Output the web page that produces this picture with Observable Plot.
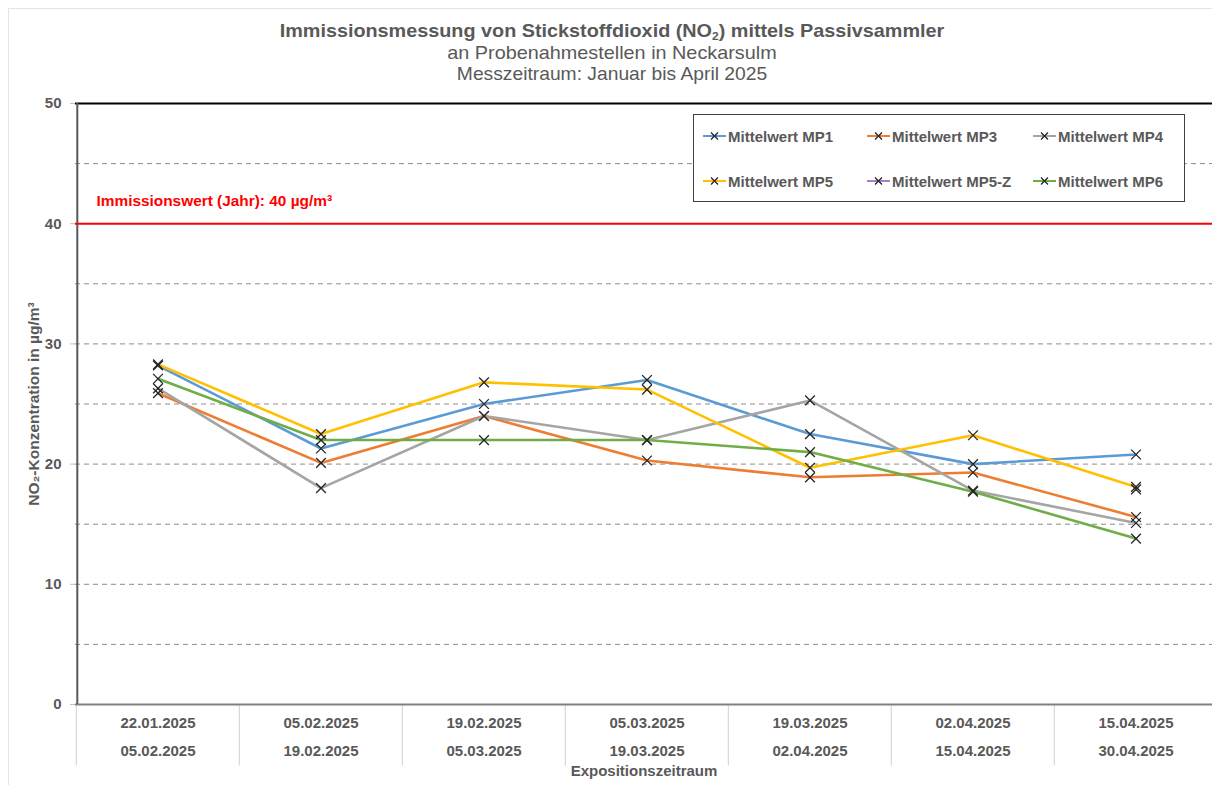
<!DOCTYPE html>
<html>
<head>
<meta charset="utf-8">
<script src="https://cdn.jsdelivr.net/npm/d3@7"></script>
<script src="https://cdn.jsdelivr.net/npm/@observablehq/plot@0.6"></script>
<style>
  html, body { margin: 0; padding: 0; background: #fff; }
  body { width: 1212px; height: 785px; position: relative; overflow: hidden; font-family: "Liberation Sans", Arial, sans-serif; color: #595959; }
  #outer { position: absolute; left: 8px; top: 8px; width: 1210px; height: 790px; border-left: 1px solid #e4e4e4; border-top: 1px solid #e4e4e4; }
  #title { position: relative; height: 88px; }
  #title > div { position: absolute; left: 6px; width: 1212px; text-align: center; font-size: 19px; line-height: 1.15; white-space: nowrap; }
  #title .t1 { top: 19.5px; font-weight: bold; transform: scaleX(1.042); }
  #title .t2 { top: 41.5px; transform: scaleX(1.043); }
  #title .t3 { top: 63.2px; transform: scaleX(1.013); }
  #title sub { font-size: 11.5px; vertical-align: -3px; line-height: 0; }
  #legend { position: absolute; left: 693px; top: 114px; width: 492px; height: 88px; box-sizing: border-box; border: 1px solid #404040; background: #fff; }
  .item { position: absolute; height: 16px; display: flex; align-items: center; font-weight: bold; font-size: 15px; color: #595959; white-space: nowrap; }
  .item svg { margin-right: 2px; }
</style>
</head>
<body>
<div id="outer"></div>
<div id="title">
  <div class="t1">Immissionsmessung von Stickstoffdioxid (NO<sub>2</sub>) mittels Passivsammler</div>
  <div class="t2">an Probenahmestellen in Neckarsulm</div>
  <div class="t3">Messzeitraum: Januar bis April 2025</div>
</div>
<div id="chart"></div>
<div id="legend"></div>
<script>
// ---- data ----
const periodStart = ["22.01.2025","05.02.2025","19.02.2025","05.03.2025","19.03.2025","02.04.2025","15.04.2025"];
const periodEnd   = ["05.02.2025","19.02.2025","05.03.2025","19.03.2025","02.04.2025","15.04.2025","30.04.2025"];
const seriesNames = ["Mittelwert MP1","Mittelwert MP3","Mittelwert MP4","Mittelwert MP5","Mittelwert MP5-Z","Mittelwert MP6"];
const mp1  = [28.2, 21.3, 25.0, 27.0, 22.5, 20.0, 20.8];
const mp3  = [25.9, 20.1, 24.0, 20.3, 18.9, 19.3, 15.6];
const mp4  = [26.3, 18.0, 24.0, 22.0, 25.3, 17.8, 15.1];
const mp5  = [28.3, 22.5, 26.8, 26.2, 19.7, 22.4, 18.1];
const mp5z = [null, null, null, null, null, null, 17.9];
const mp6  = [27.1, 22.0, 22.0, 22.0, 21.0, 17.7, 13.8];
const limitValue = 40;
const limitLabel = "Immissionswert (Jahr): 40 µg/m³";
const yTicks = [0, 10, 20, 30, 40, 50];
const gridValues = [5, 10, 15, 20, 25, 30, 35, 45];
const yLabel = "NO₂-Konzentration in µg/m³";
const xLabel = "Expositionszeitraum";

// ---- styles ----
const seriesColors = ["#5b9bd5", "#ed7d31", "#a5a5a5", "#ffc000", "#a57ed0", "#70ad47"];
const allValues = [mp1, mp3, mp4, mp5, mp5z, mp6];

const rows = [];
seriesNames.forEach((s, k) => allValues[k].forEach((v, i) => rows.push({series: s, period: periodStart[i], value: v})));
const pts = rows.filter(d => d.value != null);

const xRange = [75, 1218.8];
const bw = (xRange[1] - xRange[0]) / periodStart.length;
const endOf = d => periodEnd[periodStart.indexOf(d)];

const chart = Plot.plot({
  width: 1212,
  height: 697,
  marginTop: 15,
  marginBottom: 81,
  marginLeft: 75,
  marginRight: 0,
  style: {fontFamily: "'Liberation Sans', Arial, sans-serif", fontSize: "15px", fontWeight: "bold", color: "#595959", background: "transparent", overflow: "visible"},
  x: {type: "band", domain: periodStart, range: xRange, padding: 0},
  y: {domain: [0, 50]},
  color: {domain: seriesNames, range: seriesColors},
  marks: [
    Plot.ruleY(gridValues, {stroke: "#8c8c8c", strokeDasharray: "5,4", strokeWidth: 1}),
    Plot.ruleX(periodStart, {x: d => d, dx: -bw / 2, y1: 0, y2: -5.1, stroke: "#d0d0d0", strokeWidth: 1}),
    Plot.ruleY([50], {stroke: "#000", strokeWidth: 2}),
    Plot.ruleY([0], {stroke: "#808080", strokeWidth: 2}),
    Plot.ruleX([periodStart[0]], {x: d => d, dx: -bw / 2 + 1, y1: 0, y2: 50, stroke: "#595959", strokeWidth: 2}),
    Plot.ruleY([limitValue], {stroke: "#ff0000", strokeWidth: 2}),
    Plot.text([limitValue], {y: d => d, text: () => limitLabel, frameAnchor: "left", textAnchor: "start", dx: 21, dy: -23, fill: "#ff0000", fontSize: 15.4, fontWeight: "bold"}),
    Plot.axisY({ticks: yTicks, tickSize: 5, tickPadding: 9, stroke: "#bfbfbf", label: null, fontSize: 15}),
    Plot.axisX({tickSize: 0, tickPadding: 13, label: null, fontSize: 15}),
    Plot.axisX({tickSize: 0, tickPadding: 41, label: null, fontSize: 15, tickFormat: endOf}),
    Plot.text([yLabel], {frameAnchor: "left", textAnchor: "middle", dx: -41, rotate: -90, fontSize: 15.5, fontWeight: "bold"}),
    Plot.text([xLabel], {frameAnchor: "bottom", dy: 71, fontSize: 15, fontWeight: "bold"}),
    Plot.line(rows, {x: "period", y: "value", z: "series", stroke: "series", strokeWidth: 2.6}),
    Plot.dot(pts, {x: "period", y: "value", symbol: "times", r: 4.5, stroke: "#262626", strokeWidth: 1.3})
  ]
});
document.getElementById("chart").appendChild(chart);

// ---- legend ----
const legend = document.getElementById("legend");
const colX = [9, 173, 339];
const rowY = [13, 58];
seriesNames.forEach((s, k) => {
  const el = document.createElement("div");
  el.className = "item";
  el.style.left = colX[k % 3] + "px";
  el.style.top = rowY[Math.floor(k / 3)] + "px";
  el.innerHTML = `<svg width="23" height="12"><line x1="0" x2="23" y1="6" y2="6" stroke="${seriesColors[k]}" stroke-width="2"/><path d="M8,2.5L15,9.5M15,2.5L8,9.5" stroke="#262626" stroke-width="1.3"/></svg><span>${s}</span>`;
  legend.appendChild(el);
});
</script>
</body>
</html>
